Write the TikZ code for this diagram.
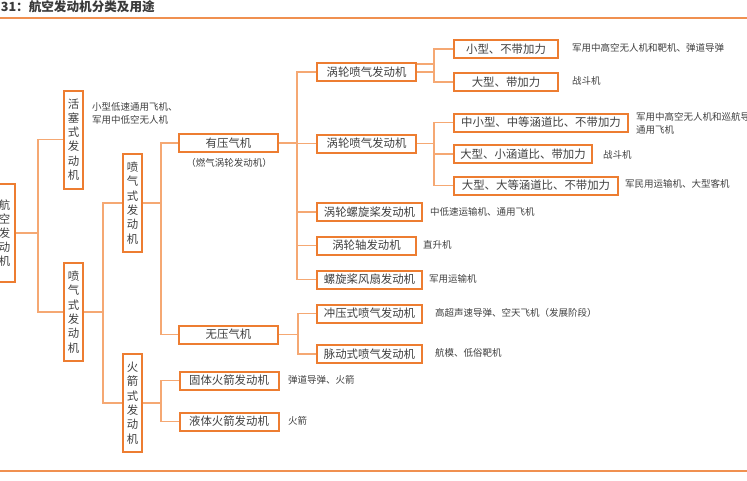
\documentclass[tikz,border=0pt]{standalone}
\usepackage{fontspec}
\usepackage{xcolor}
\usepackage{tikz}
\usetikzlibrary{positioning}
\newfontfamily\cjk{Noto Sans CJK SC}
\definecolor{boxorange}{RGB}{237,125,49}
\definecolor{lineorange}{RGB}{245,168,115}
\definecolor{textgray}{RGB}{64,64,64}
\tikzset{box/.style={draw=boxorange,line width=2pt,fill=white,text=textgray,font=\cjk\fontsize{11.4}{13}\selectfont,minimum height=18pt,inner sep=0pt},
  vbox/.style={box,align=center,minimum width=19pt,minimum height=98pt,font=\cjk\fontsize{11.4}{14.3}\selectfont},
  note/.style={anchor=west,inner sep=0pt,align=left,text=textgray,font=\cjk\fontsize{9.5}{13}\selectfont},
  link/.style={draw=lineorange,line width=1.3pt},
  rule/.style={draw=boxorange!85,line width=1.6pt}}

\begin{document}
\begin{tikzpicture}[x=1pt,y=-1pt]
    \useasboundingbox (0,0) rectangle (747,480);
    \node[anchor=east,inner sep=0pt,text=textgray!90!black,font=\cjk\bfseries\fontsize{12.6}{14}\selectfont] (title) at (155,7) {31：航空发动机分类及用途};
    \draw[rule] (0,18) -- (747,18);
    \draw[rule] (0,471) -- (747,471);

    \node[vbox,minimum width=20pt,font=\cjk\fontsize{11.4}{13.8}\selectfont] (hk) at (4.5,233) {航\\空\\发\\动\\机};
    \node[vbox] (hs) at (73.5,139.5) {活\\塞\\式\\发\\动\\机};
    \node[vbox] (pq1) at (73.5,312) {喷\\气\\式\\发\\动\\机};
    \node[vbox] (pq2) at (132.5,203) {喷\\气\\式\\发\\动\\机};
    \node[vbox] (hj) at (132.5,403) {火\\箭\\式\\发\\动\\机};
    \node[box,minimum width=99pt] (yy) at (228.5,143) {有压气机};
    \node[box,minimum width=99pt] (wy) at (228.5,334.5) {无压气机};
    \node[box,minimum width=99pt] (gt) at (229,380.5) {固体火箭发动机};
    \node[box,minimum width=99pt] (yt) at (229,421.5) {液体火箭发动机};
    \node[box,minimum width=99pt] (tp1) at (366.5,72) {涡轮喷气发动机};
    \node[box,minimum width=99pt] (tp2) at (366.5,143.5) {涡轮喷气发动机};
    \node[box,minimum width=105pt] (tl) at (369.5,212) {涡轮螺旋桨发动机};
    \node[box,minimum width=99pt] (tz) at (366.5,245.5) {涡轮轴发动机};
    \node[box,minimum width=105pt] (lf) at (369.5,279.5) {螺旋桨风扇发动机};
    \node[box,minimum width=105pt] (cy) at (369.5,313.5) {冲压式喷气发动机};
    \node[box,minimum width=105pt] (md) at (369.5,354) {脉动式喷气发动机};
    \node[box,minimum width=104pt] (xb) at (506,49) {小型、不带加力};
    \node[box,minimum width=104pt] (dj) at (506,82) {大型、带加力};
    \node[box,minimum width=174pt] (zx) at (541,122.5) {中小型、中等涵道比、不带加力};
    \node[box,minimum width=138pt] (dx) at (523,154) {大型、小涵道比、带加力};
    \node[box,minimum width=164pt] (dd) at (536,185.5) {大型、大等涵道比、不带加力};

    \node[note] (n1) at (92,113.5) {小型低速通用飞机、\\军用中低空无人机};
    \node[note,anchor=center] (n2) at (229,163) {（燃气涡轮发动机）};
    \node[note] (n3) at (572,48) {军用中高空无人机和靶机、弹道导弹};
    \node[note] (n4) at (572,80.5) {战斗机};
    \node[note] (n5) at (636,123) {军用中高空无人机和巡航导弹、\\通用飞机};
    \node[note] (n6) at (603,155) {战斗机};
    \node[note] (n7) at (625,184) {军民用运输机、大型客机};
    \node[note] (n8) at (430,212) {中低速运输机、通用飞机};
    \node[note] (n9) at (423,245) {直升机};
    \node[note] (n10) at (429,279) {军用运输机};
    \node[note] (n11) at (435,313) {高超声速导弹、空天飞机（发展阶段）};
    \node[note] (n12) at (435,353) {航模、低俗靶机};
    \node[note] (n13) at (288,380) {弹道导弹、火箭};
    \node[note] (n14) at (288,421) {火箭};

    \coordinate (b1) at (38,233);
    \coordinate (b2) at (103,312);
    \coordinate (b3) at (161,203);
    \coordinate (b4) at (161,403);
    \coordinate (b5) at (297,143);
    \coordinate (b6) at (298,334.5);
    \coordinate (b7) at (434,72);
    \coordinate (b8) at (434,143.5);

    \draw [link] (hk.east) -- (b1) |- (hs.west);
    \draw [link] (hk.east) -- (b1) |- (pq1.west);
    \draw [link] (pq1.east) -- (b2) |- (pq2.west);
    \draw [link] (pq1.east) -- (b2) |- (hj.west);
    \draw [link] (pq2.east) -- (b3) |- (yy.west);
    \draw [link] (pq2.east) -- (b3) |- (wy.west);
    \draw [link] (hj.east) -- (b4) |- (gt.west);
    \draw [link] (hj.east) -- (b4) |- (yt.west);
    \draw [link] (yy.east) -- (b5) |- (tp1.west);
    \draw [link] (yy.east) -- (b5) |- (tp2.west);
    \draw [link] (yy.east) -- (b5) |- (tl.west);
    \draw [link] (yy.east) -- (b5) |- (tz.west);
    \draw [link] (yy.east) -- (b5) |- (lf.west);
    \draw [link] (wy.east) -- (b6) |- (cy.west);
    \draw [link] (wy.east) -- (b6) |- (md.west);
    \draw [link] (tp1.east) -- (b7) |- (xb.west);
    \draw [link] (tp1.east) -- (b7) |- (dj.west);
    \draw [link] ([yshift=8pt]tp1.east) -- ([yshift=8pt]b7);
    \draw [link] (tp2.east) -- (b8) |- (zx.west);
    \draw [link] (tp2.east) -- (b8) |- (dx.west);
    \draw [link] (tp2.east) -- (b8) |- (dd.west);
\end{tikzpicture}
\end{document}
